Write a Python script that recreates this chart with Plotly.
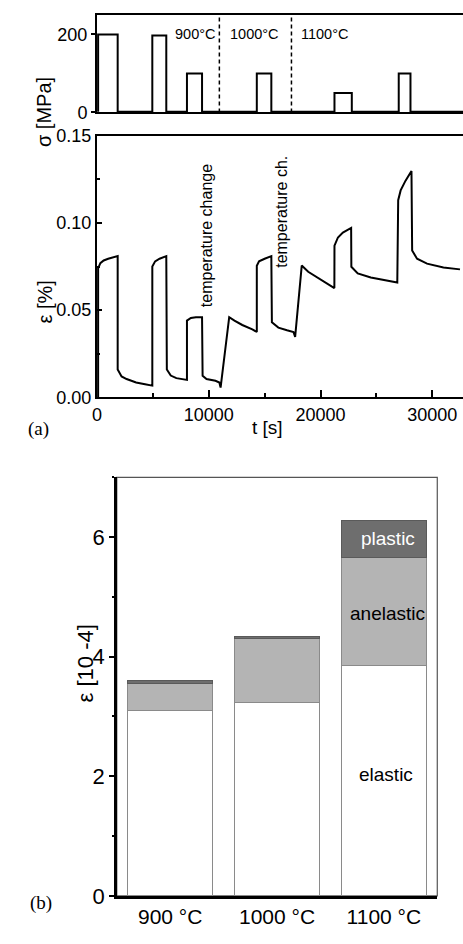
import plotly.graph_objects as go

# ---------------- data ----------------
# (a) upper panel: applied stress steps
t_stress = [100, 100, 1850, 1850, 4950, 4950, 6200, 6200, 8050, 8050, 9400, 9400,
            14300, 14300, 15600, 15600, 21250, 21250, 22800, 22800, 27000, 27000,
            28050, 28050, 32750]
sigma = [2, 200, 200, 2, 2, 197, 197, 2, 2, 100, 100, 2,
         2, 100, 100, 2, 2, 50, 50, 2, 2, 100,
         100, 2, 2]

# (a) lower panel: strain response
t_strain = [100, 100, 300, 600, 1000, 1850,
            1850, 2200, 2650, 3500, 4300, 4800,
            4950, 4950, 5200, 5600, 6200,
            6250, 6600, 7100, 8000,
            8050, 8050, 8400, 8850, 9400,
            9450, 9800, 10600, 10950, 11060,
            11830, 12300, 13000, 13900, 14300,
            14300, 14500, 15000, 15600,
            15650, 16230, 17000, 17580, 17730,
            18320, 18900, 19800, 20970, 21240,
            21250, 21560, 22000, 22740,
            22760, 23330, 24500, 26280, 26870,
            26950, 27170, 27610, 28140,
            28200, 28640, 29530, 31000, 32480]
eps = [0.0, 0.074, 0.077, 0.0785, 0.0795, 0.081,
       0.016, 0.012, 0.0105, 0.0085, 0.0075, 0.0067,
       0.0067, 0.075, 0.078, 0.0795, 0.081,
       0.016, 0.0125, 0.011, 0.010,
       0.010, 0.044, 0.0455, 0.046, 0.046,
       0.0123, 0.0105, 0.0095, 0.0085, 0.0056,
       0.046, 0.044, 0.0415, 0.039, 0.0375,
       0.0755, 0.078, 0.0795, 0.081,
       0.043, 0.040, 0.0385, 0.0375, 0.0347,
       0.0756, 0.072, 0.0683, 0.0637, 0.0627,
       0.087, 0.0917, 0.0945, 0.0972,
       0.0749, 0.0711, 0.0687, 0.0668, 0.0659,
       0.1131, 0.1187, 0.1243, 0.1299,
       0.0842, 0.0795, 0.0767, 0.0745, 0.0734]

temp_change_t = [10950, 17400]
temp_labels = ["900°C", "1000°C", "1100°C"]
temp_label_t = [8760, 14070, 20350]

# (b) strain components
temps = ["900 °C", "1000 °C", "1100 °C"]
elastic = [3.10, 3.23, 3.85]
anelastic = [0.46, 1.07, 1.81]
plastic = [0.04, 0.04, 0.61]

# ---------------- figure ----------------
W, H = 463, 944
FONT = "Liberation Sans, Arial, sans-serif"

def px_x(p):
    return p / W

def px_y(p):
    return 1 - p / H

fig = go.Figure()

fig.add_trace(go.Scatter(x=t_stress, y=sigma, mode="lines", xaxis="x2", yaxis="y2",
                         line=dict(color="black", width=2), showlegend=False))
fig.add_trace(go.Scatter(x=t_strain, y=eps, mode="lines", xaxis="x", yaxis="y",
                         line=dict(color="black", width=2), showlegend=False))

bar_line = dict(color="#8a8a8a", width=1)
fig.add_trace(go.Bar(x=temps, y=elastic, xaxis="x3", yaxis="y3", width=0.8,
                     marker=dict(color="white", line=bar_line), showlegend=False))
fig.add_trace(go.Bar(x=temps, y=anelastic, xaxis="x3", yaxis="y3", width=0.8,
                     marker=dict(color="#b4b4b4", line=bar_line), showlegend=False))
fig.add_trace(go.Bar(x=temps, y=plastic, xaxis="x3", yaxis="y3", width=0.8,
                     marker=dict(color="#6e6e6e", line=dict(color="#5a5a5a", width=1)),
                     showlegend=False))

tickfont = dict(family=FONT, size=18, color="black")

fig.update_layout(
    width=W, height=H,
    margin=dict(l=0, r=0, t=0, b=0),
    paper_bgcolor="white", plot_bgcolor="white",
    barmode="stack",
    xaxis=dict(domain=[px_x(93), 1], anchor="y", range=[0, 32750],
               tickvals=[0, 10000, 20000, 30000], ticktext=["0", "10000", "20000", "30000"],
               ticks="inside", ticklen=7, tickwidth=1.5, tickcolor="black",
               minor=dict(dtick=5000, tick0=0, ticks="inside", ticklen=4, tickcolor="black"),
               showline=True, linewidth=2, linecolor="black", mirror=True,
               showgrid=False, zeroline=False, tickfont=tickfont),
    yaxis=dict(domain=[px_y(397), px_y(129)], anchor="x", range=[0, 0.15],
               tickvals=[0, 0.05, 0.10, 0.15], ticktext=["0.00", "0.05", "0.10", "0.15"],
               ticks="inside", ticklen=5, tickwidth=1.5, tickcolor="black",
               minor=dict(dtick=0.025, tick0=0, ticks="inside", ticklen=3, tickcolor="black"),
               showline=True, linewidth=2, linecolor="black",
               showgrid=False, zeroline=False, tickfont=tickfont),
    xaxis2=dict(domain=[px_x(93), 1], anchor="y2", range=[0, 32750], matches="x",
                showticklabels=False, ticks="",
                showline=True, linewidth=2, linecolor="black", mirror=True,
                showgrid=False, zeroline=False),
    yaxis2=dict(domain=[px_y(105), px_y(5)], anchor="x2", range=[0, 250],
                tickvals=[0, 200], ticktext=["0", "200"],
                ticks="outside", ticklen=4, tickwidth=1.5, tickcolor="black",
                showline=True, linewidth=2, linecolor="black",
                showgrid=False, zeroline=False, tickfont=tickfont),
    xaxis3=dict(domain=[px_x(113), px_x(437)], anchor="y3", type="category",
                range=[-0.5, 2.5], ticks="",
                showline=True, linewidth=2.5, linecolor="black",
                showgrid=False, zeroline=False,
                tickfont=dict(family=FONT, size=21, color="black")),
    yaxis3=dict(domain=[px_y(908), px_y(479)], anchor="x3", range=[0, 7],
                tickvals=[0, 2, 4, 6], ticks="outside", ticklen=5, tickwidth=1.5,
                tickcolor="black",
                minor=dict(dtick=1, tick0=0, ticks="outside", ticklen=2, tickcolor="black"),
                showline=True, linewidth=2.5, linecolor="black",
                showgrid=False, zeroline=False,
                tickfont=dict(family=FONT, size=22, color="black")),
)

# frame of panel (b)
fig.add_shape(type="rect", xref="x3 domain", yref="y3 domain", x0=0, x1=1, y0=0, y1=1,
              line=dict(color="#555555", width=1.2), layer="below")

# dashed temperature-change markers in stress panel
for tc in temp_change_t:
    fig.add_shape(type="line", xref="x2", yref="y2 domain", x0=tc, x1=tc, y0=0, y1=1,
                  line=dict(color="black", width=1.5, dash="4px,3px"))

for lab, tl in zip(temp_labels, temp_label_t):
    fig.add_annotation(x=tl, y=200, xref="x2", yref="y2", text=lab, showarrow=False,
                       font=dict(family=FONT, size=14.5, color="black"))

fig.add_annotation(x=9820, y=0.0929, xref="x", yref="y", text="temperature change",
                   textangle=-90, showarrow=False, font=dict(family=FONT, size=16, color="black"))
fig.add_annotation(x=16550, y=0.1064, xref="x", yref="y", text="temperature ch.",
                   textangle=-90, showarrow=False, font=dict(family=FONT, size=16, color="black"))

# axis titles
fig.add_annotation(x=px_x(27), y=px_y(67), xref="paper", yref="paper", text="σ [MPa]",
                   textangle=-90, showarrow=False, font=dict(family=FONT, size=20, color="black"))
fig.add_annotation(x=px_x(27), y=px_y(275), xref="paper", yref="paper", text="ε [%]",
                   textangle=-90, showarrow=False, font=dict(family=FONT, size=20, color="black"))
fig.add_annotation(x=px_x(265), y=px_y(428), xref="paper", yref="paper", text="t [s]",
                   showarrow=False, font=dict(family=FONT, size=19, color="black"))
fig.add_annotation(x=px_x(21), y=px_y(429), xref="paper", yref="paper", text="(a)",
                   showarrow=False, font=dict(family="Liberation Serif, Times New Roman, serif",
                                              size=19, color="black"))
fig.add_annotation(x=px_x(67), y=px_y(712), xref="paper", yref="paper", text="ε [10 -4]",
                   textangle=-90, showarrow=False, font=dict(family=FONT, size=22, color="black"))
fig.add_annotation(x=px_x(23), y=px_y(929), xref="paper", yref="paper", text="(b)",
                   showarrow=False, font=dict(family="Liberation Serif, Times New Roman, serif",
                                              size=19, color="black"))

# component labels in panel (b)
fig.add_annotation(x=2.04, y=5.97, xref="x3", yref="y3", text="plastic", showarrow=False,
                   font=dict(family=FONT, size=19, color="white"))
fig.add_annotation(x=2.03, y=4.72, xref="x3", yref="y3", text="anelastic", showarrow=False,
                   font=dict(family=FONT, size=19, color="black"))
fig.add_annotation(x=2.02, y=2.03, xref="x3", yref="y3", text="elastic", showarrow=False,
                   font=dict(family=FONT, size=19, color="black"))

fig.write_html("out.html")
